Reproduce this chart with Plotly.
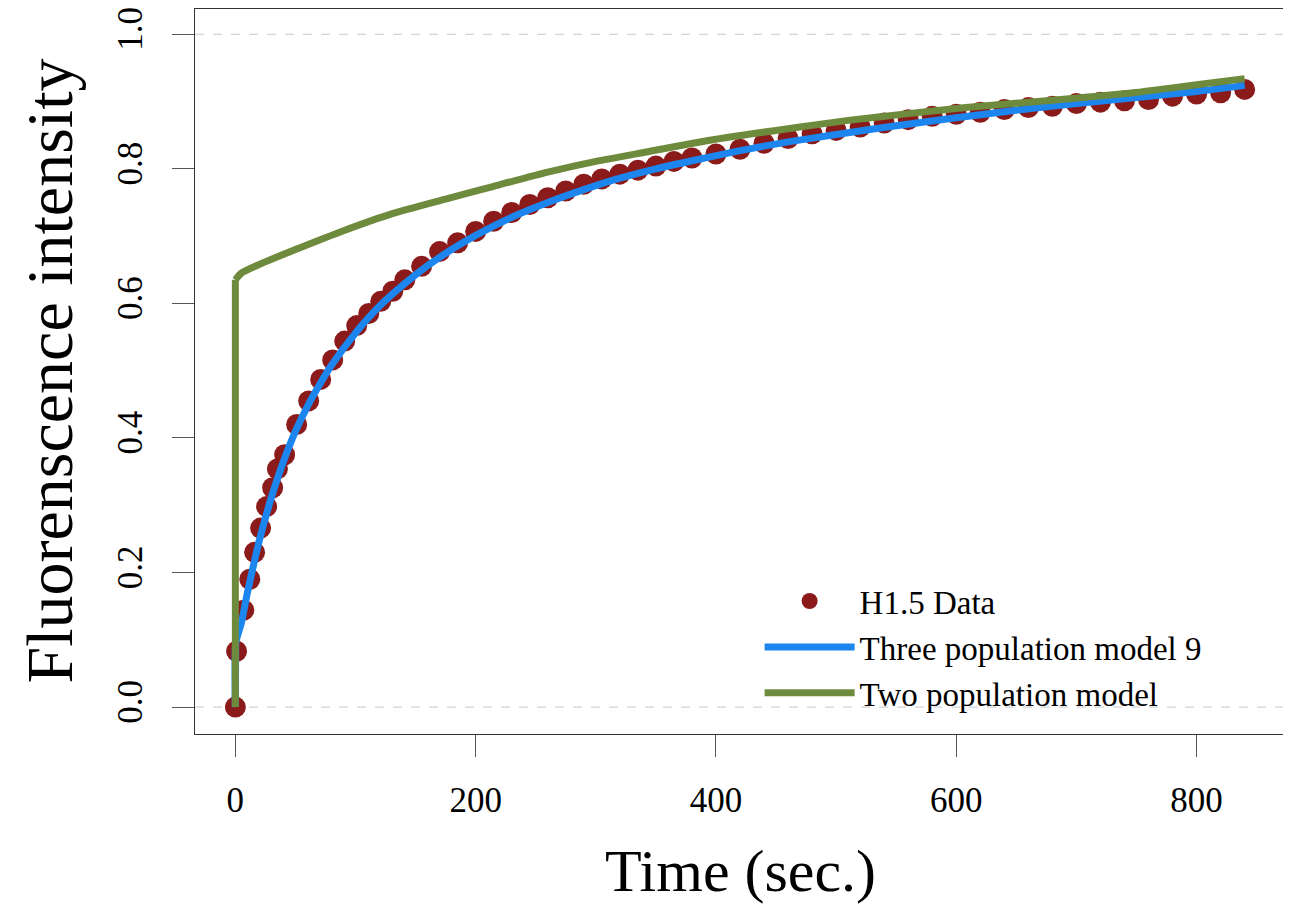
import plotly.graph_objects as go

# ---- data ----
data_time = [0, 1, 7, 12, 16, 21, 26, 31, 35, 41, 51, 61, 71, 81, 91, 101, 111, 121, 131, 141,
             155, 170, 185, 200, 215, 230, 245, 260, 275, 290, 305, 320, 335, 350, 365, 380,
             400, 420, 440, 460, 480, 500, 520, 540, 560, 580, 600, 620, 640, 660, 680, 700,
             720, 740, 760, 780, 800, 820, 840]
data_value = [0.0, 0.083, 0.144, 0.19, 0.23, 0.266, 0.298, 0.326, 0.354, 0.375, 0.42, 0.455, 0.487,
              0.516, 0.544, 0.567, 0.585, 0.603, 0.618, 0.635,
              0.655, 0.677, 0.69, 0.707, 0.722, 0.735, 0.747, 0.757, 0.767, 0.777, 0.785, 0.792,
              0.798, 0.804, 0.811, 0.816,
              0.822, 0.829, 0.838, 0.845, 0.852, 0.857, 0.862, 0.868, 0.873, 0.878, 0.881, 0.884,
              0.888, 0.891, 0.893, 0.897, 0.899, 0.901, 0.903, 0.908, 0.911, 0.913, 0.918]

three_time = [0, 0.3, 5, 10, 15, 20, 25, 30, 40, 50, 60, 70, 80, 100, 120, 140, 160, 180, 200,
              230, 260, 290, 320, 350, 380, 420, 460, 500, 550, 600, 650, 700, 750, 800, 840]
three_value = [0.0, 0.095, 0.125, 0.17, 0.21, 0.248, 0.281, 0.312, 0.365, 0.41, 0.447, 0.479, 0.508,
               0.556, 0.596, 0.628, 0.656, 0.68, 0.701, 0.728, 0.75, 0.769, 0.786, 0.8, 0.812,
               0.827, 0.84, 0.851, 0.864, 0.876, 0.887, 0.897, 0.906, 0.915, 0.924]

two_time = [0, 0, 5, 20, 50, 90, 130, 175, 215, 260, 300, 345, 390, 430, 470, 510, 560, 608,
            680, 747, 800, 840]
two_value = [0.0, 0.635, 0.645, 0.658, 0.68, 0.708, 0.733, 0.755, 0.774, 0.795, 0.811, 0.826,
             0.841, 0.852, 0.862, 0.872, 0.882, 0.891, 0.902, 0.913, 0.925, 0.934]

x_ticks = [0, 200, 400, 600, 800]
y_ticks = [0.0, 0.2, 0.4, 0.6, 0.8, 1.0]
y_tick_text = ["0.0", "0.2", "0.4", "0.6", "0.8", "1.0"]
ref_lines = [0.0, 1.0]

FONT = "Liberation Serif"
RED = "#8B1A1A"
BLUE = "#1C86EE"
GREEN = "#6E8B3D"

fig = go.Figure()
fig.add_trace(go.Scatter(x=data_time, y=data_value, mode="markers", name="H1.5 Data",
                         marker=dict(color=RED, size=21, line=dict(width=0))))
# Each model curve: the jump at t=0 is drawn straight, the rest smoothed
fig.add_trace(go.Scatter(x=three_time, y=three_value, mode="lines", name="Three population model 9",
                         legendgroup="three",
                         line=dict(color=BLUE, width=7, shape="spline", smoothing=0.6)))
fig.add_trace(go.Scatter(x=three_time[:2], y=three_value[:2], mode="lines", showlegend=False,
                         legendgroup="three", line=dict(color=BLUE, width=7), hoverinfo="skip"))
fig.add_trace(go.Scatter(x=two_time[:2], y=two_value[:2], mode="lines", showlegend=False,
                         legendgroup="two", line=dict(color=GREEN, width=7), hoverinfo="skip"))
fig.add_trace(go.Scatter(x=two_time[1:], y=two_value[1:], mode="lines", name="Two population model",
                         legendgroup="two",
                         line=dict(color=GREEN, width=7, shape="spline", smoothing=0.6)))

for v in ref_lines:
    fig.add_shape(type="line", xref="paper", yref="y", x0=0, x1=1, y0=v, y1=v,
                  line=dict(color="#C8C8C8", width=1, dash="dash"), layer="below")

# the page body adds an 8px offset, so the figure is sized/margined to compensate
fig.update_layout(
    width=1283, height=903,
    margin=dict(l=187, r=6, t=1, b=177, autoexpand=False),
    paper_bgcolor="white", plot_bgcolor="white",
    font=dict(family=FONT, color="black"),
    showlegend=True,
    legend=dict(x=0.518, y=0.222, xanchor="left", yanchor="top",
                bgcolor="rgba(0,0,0,0)", font=dict(size=33, family=FONT),
                itemwidth=90, tracegroupgap=0, traceorder="normal"),
    annotations=[
        dict(text="Time (sec.)", xref="paper", yref="paper", x=0.5, y=0, yshift=-137,
             showarrow=False, font=dict(size=60, family=FONT), xanchor="center", yanchor="middle"),
        dict(text="Fluorenscence intensity", xref="paper", yref="paper", x=0, y=0.5, xshift=-146,
             showarrow=False, textangle=-90, font=dict(size=66, family=FONT),
             xanchor="center", yanchor="middle"),
    ],
)
fig.update_xaxes(range=[-33.6, 873.6], tickvals=x_ticks, ticks="outside", ticklen=22,
                 tickcolor="#555", showline=True, linecolor="#333", linewidth=1, mirror=True,
                 showgrid=False, zeroline=False, tickfont=dict(size=35, family=FONT),
                 ticklabelstandoff=13, automargin=False, ticklabeloverflow="allow")
fig.update_yaxes(range=[-0.04, 1.0375], tickvals=y_ticks, ticktext=y_tick_text, ticks="outside",
                 ticklen=22, tickcolor="#555", showline=True, linecolor="#333", linewidth=1,
                 mirror=True, showgrid=False, zeroline=False, tickangle=-90,
                 tickfont=dict(size=35, family=FONT), ticklabelstandoff=16, automargin=False,
                 ticklabeloverflow="allow")

fig.write_html("out.html")
